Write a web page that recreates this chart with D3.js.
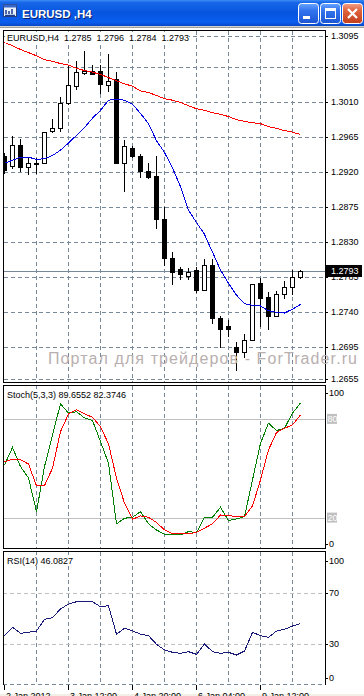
<!DOCTYPE html>
<html><head><meta charset="utf-8">
<script src="https://cdn.jsdelivr.net/npm/d3@7"></script>
<style>
html,body{margin:0;padding:0;background:#fff;overflow:hidden;}
svg{display:block;}
text{font-family:"Liberation Sans",Arial,sans-serif;}
</style></head><body>
<script>
// ---------------- DATA ----------------
const windowTitle = "EURUSD ,H4";
const headerText = "EURUSD,H4  1.2785  1.2796  1.2784  1.2793";
const stochTitle = "Stoch(5,3,3) 89.6552 82.3746";
const rsiTitle = "RSI(14) 46.0827";
const watermark = "Портал для трейдеров - ForTrader.ru";

const openP  = [1.2941,1.2927,1.2954,1.2926,1.2930,1.2932,1.2972,1.2976,1.3008,1.3030,1.3047,1.3049,1.3049,1.3032,1.3039,1.2931,1.2951,1.2940,1.2921,1.2915,1.2860,1.2810,1.2796,1.2787,1.2794,1.2769,1.2800,1.2732,1.2722,1.2695,1.2689,1.2705,1.2777,1.2759,1.2735,1.2763,1.2773,1.2785];
const highP  = [1.2945,1.2968,1.2964,1.2939,1.2939,1.2973,1.2989,1.3018,1.3057,1.3064,1.3076,1.3059,1.3059,1.3072,1.3049,1.2962,1.2954,1.2944,1.2933,1.2942,1.2876,1.2819,1.2799,1.2798,1.2799,1.2810,1.2809,1.2736,1.2731,1.2703,1.2714,1.2777,1.2785,1.2767,1.2769,1.2781,1.2795,1.2796];
const lowP   = [1.2919,1.2925,1.2921,1.2917,1.2919,1.2931,1.2971,1.2972,1.3007,1.3026,1.3045,1.3045,1.3021,1.3024,1.2931,1.2895,1.2939,1.2913,1.2912,1.2848,1.2800,1.2776,1.2783,1.2782,1.2766,1.2768,1.2726,1.2695,1.2710,1.2666,1.2682,1.2704,1.2722,1.2719,1.2735,1.2758,1.2763,1.2784];
const closeP = [1.2922,1.2954,1.2926,1.2931,1.2932,1.2971,1.2976,1.3009,1.3031,1.3048,1.3049,1.3046,1.3033,1.3037,1.2931,1.2953,1.2940,1.2921,1.2913,1.2860,1.2810,1.2792,1.2789,1.2792,1.2768,1.2800,1.2732,1.2718,1.2719,1.2689,1.2704,1.2776,1.2758,1.2735,1.2764,1.2772,1.2785,1.2793];
const maFast = [1.2931,1.2935,1.2939,1.2939,1.2936,1.2937,1.2941,1.2948,1.2957,1.2967,1.2977,1.2989,1.2999,1.3012,1.3013,1.3012,1.3007,1.2995,1.2982,1.2960,1.2945,1.2925,1.2901,1.2871,1.2855,1.2840,1.2817,1.2794,1.2777,1.2762,1.2751,1.2749,1.2748,1.2742,1.2740,1.2739,1.2744,1.2750];
const maSlow = [1.3086,1.3082,1.3077,1.3073,1.3069,1.3064,1.3062,1.3059,1.3057,1.3053,1.3050,1.3048,1.3045,1.3041,1.3037,1.3033,1.3030,1.3024,1.3022,1.3018,1.3014,1.3012,1.3009,1.3005,1.3001,1.2999,1.2996,1.2994,1.2991,1.2987,1.2985,1.2983,1.2982,1.2978,1.2976,1.2973,1.2971,1.2968];
const stochMain   = [52.0,62.6,51.0,44.1,23.6,51.0,70.3,89.1,83.5,84.4,80.6,79.0,66.2,53.1,16.2,19.6,20.2,23.6,16.2,12.5,9.9,9.5,9.5,11.5,10.9,20.2,20.2,26.3,18.2,19.2,20.6,42.9,65.2,77.4,72.9,74.3,83.5,89.66];
const stochSignal = [54.0,55.5,55.1,52.6,39.3,39.5,50.0,72.3,83.0,85.5,83.0,81.0,75.3,64.8,44.0,28.8,19.0,21.0,20.2,17.0,12.5,10.1,10.1,10.1,11.1,13.6,16.2,21.6,21.2,20.6,20.6,27.1,42.9,61.2,71.7,74.3,76.4,82.37];
const rsiValues   = [36.7,43.2,38.5,39.3,40.3,49.4,50.6,57.4,61.2,63.0,63.0,63.0,59.1,59.9,37.8,42.4,40.5,37.8,36.7,30.0,25.6,23.8,23.0,24.3,22.2,30.2,24.3,23.0,23.8,21.7,24.8,39.3,36.7,35.4,40.3,41.6,44.2,46.08];

const priceTicks = [1.3095,1.3055,1.3010,1.2965,1.2920,1.2875,1.2830,1.2785,1.2740,1.2695,1.2655];
const lastPrice = 1.2793;
const stochLevels = [80,20];
const rsiLevels = [70,30];
const dateLabels = ["2 Jan 2012","3 Jan 12:00","4 Jan 20:00","6 Jan 04:00","9 Jan 12:00"];
const dateIdx = [0,8,16,24,32];
const gridIdx = [4,8,12,16,20,24,28,32,36];

// ---------------- LAYOUT ----------------
const W = 364, H = 696;
const L = 3, R = 325;
const P = {main:{top:30,bottom:383}, stoch:{top:385,bottom:549}, rsi:{top:551,bottom:685}};
const GRID = "#778899";
const FS = 9;

const n = openP.length;
const x = d3.scaleLinear().domain([0, n-1]).range([4.5, 4.5 + 8*(n-1)]);
const yP = d3.scaleLinear().domain([1.2655, 1.3095]).range([378.5, 35.5]);
const yS = d3.scaleLinear().domain([0, 100]).range([550.5, 386]);
const yR = d3.scaleLinear().domain([0, 100]).range([683, 554]);
const sy = v => Math.round(v) + 0.5;

const svg = d3.select("body").append("svg").attr("width", W).attr("height", H);
const defs = svg.append("defs");
function grad(id, stops){
  const g = defs.append("linearGradient").attr("id", id).attr("x1",0).attr("y1",0).attr("x2",0).attr("y2",1);
  stops.forEach(([o,c]) => g.append("stop").attr("offset", o).attr("stop-color", c));
}
grad("title", [["0%","#3D8CF6"],["10%","#1766E8"],["50%","#0655DF"],["85%","#0A5EEF"],["100%","#0847C6"]]);
grad("btn", [["0%","#6AA5FF"],["35%","#3274EE"],["100%","#1B55D2"]]);
grad("btnClose", [["0%","#F3A186"],["35%","#E0643E"],["100%","#C23E19"]]);
Object.entries(P).forEach(([k,p]) => {
  defs.append("clipPath").attr("id","clip-"+k).append("rect")
    .attr("x", L+1).attr("y", p.top+1).attr("width", R-L-1).attr("height", p.bottom-p.top-1);
});

svg.append("rect").attr("width", W).attr("height", H).attr("fill", "#fff");

// ---------------- WINDOW CHROME ----------------
svg.append("rect").attr("x",0).attr("y",0).attr("width",W).attr("height",26).attr("fill","url(#title)");
svg.append("rect").attr("x",0).attr("y",26).attr("width",W).attr("height",1).attr("fill","#d6d3cc");
svg.append("rect").attr("x",0).attr("y",27).attr("width",W).attr("height",1).attr("fill","#a0a0a0");
const ic = svg.append("g").attr("transform","translate(3,4)");
ic.append("rect").attr("x",0.5).attr("y",0.5).attr("width",13).attr("height",12).attr("fill","#e8f0ff").attr("stroke","#2a3f7a");
ic.append("rect").attr("x",0.5).attr("y",0.5).attr("width",13).attr("height",3).attr("fill","#3a66c8");
ic.append("path").attr("d","M3 10 L3 6 M6 10 L6 7 M9 10 L9 5 M2 11.5 H12").attr("stroke","#1c3c8c").attr("stroke-width",1.5).attr("fill","none");
svg.append("text").attr("x",23).attr("y",19).attr("fill","#0a1e6e").attr("font-size",11.5).attr("font-weight","bold").text(windowTitle);
svg.append("text").attr("x",22).attr("y",18).attr("fill","#fff").attr("font-size",11.5).attr("font-weight","bold").text(windowTitle);
const btns = [{x:298, f:"url(#btn)", k:"min"},{x:320, f:"url(#btn)", k:"max"},{x:342, f:"url(#btnClose)", k:"close"}];
btns.forEach(b => {
  const g = svg.append("g").attr("transform", `translate(${b.x},3)`);
  g.append("rect").attr("x",0.5).attr("y",0.5).attr("width",20).attr("height",20).attr("rx",3).attr("fill",b.f).attr("stroke","#fff");
  if (b.k === "min") g.append("rect").attr("x",5).attr("y",13).attr("width",7).attr("height",3).attr("fill","#fff");
  if (b.k === "max") {
    g.append("rect").attr("x",5.5).attr("y",5.5).attr("width",10).attr("height",10).attr("fill","none").attr("stroke","#fff");
    g.append("rect").attr("x",5).attr("y",5).attr("width",11).attr("height",3).attr("fill","#fff");
  }
  if (b.k === "close") g.append("path").attr("d","M6 6 L15 15 M15 6 L6 15").attr("stroke","#fff").attr("stroke-width",2.2);
});

// ---------------- GRID ----------------
const gridG = svg.append("g").attr("shape-rendering","crispEdges");
Object.values(P).forEach(p => {
  gridIdx.forEach(i => {
    gridG.append("line").attr("x1", x(i)).attr("x2", x(i)).attr("y1", p.top+1).attr("y2", p.bottom)
      .attr("stroke", GRID).attr("stroke-dasharray","4,3");
  });
});
priceTicks.forEach(t => {
  gridG.append("line").attr("x1", L+1).attr("x2", R).attr("y1", sy(yP(t))).attr("y2", sy(yP(t)))
    .attr("stroke", GRID).attr("stroke-dasharray","4,3");
});
gridG.append("line").attr("x1", L).attr("x2", R).attr("y1", 684.5).attr("y2", 684.5)
  .attr("stroke", GRID).attr("stroke-dasharray","4,3");

// ---------------- MAIN PANEL ----------------
const main = svg.append("g").attr("clip-path","url(#clip-main)");
main.append("line").attr("x1",L).attr("x2",R).attr("y1",sy(yP(lastPrice))).attr("y2",sy(yP(lastPrice)))
  .attr("stroke",GRID).attr("shape-rendering","crispEdges");

const candles = d3.range(n).map(i => ({i, o:openP[i], h:highP[i], l:lowP[i], c:closeP[i]}));
const cg = main.append("g").attr("shape-rendering","crispEdges");
cg.selectAll("line.w").data(candles).join("line").attr("class","w")
  .attr("x1", d => x(d.i)).attr("x2", d => x(d.i))
  .attr("y1", d => sy(yP(d.h))).attr("y2", d => sy(yP(d.l))).attr("stroke","#000");
cg.selectAll("rect.b").data(candles).join("rect").attr("class","b")
  .attr("x", d => x(d.i) - 2).attr("width", 4)
  .attr("y", d => sy(yP(Math.max(d.o,d.c))))
  .attr("height", d => Math.max(0, sy(yP(Math.min(d.o,d.c))) - sy(yP(Math.max(d.o,d.c)))))
  .attr("fill", d => d.c >= d.o ? "#fff" : "#000").attr("stroke","#000");

const lineP = d3.line().x((d,i) => x(i)).y(d => yP(d));
main.append("path").datum(maSlow).attr("d", lineP).attr("fill","none").attr("stroke","#ff0000").attr("shape-rendering","crispEdges");
main.append("path").datum(maFast).attr("d", lineP).attr("fill","none").attr("stroke","#0000e0").attr("shape-rendering","crispEdges");

// ---------------- STOCH PANEL ----------------
const st = svg.append("g").attr("clip-path","url(#clip-stoch)");
stochLevels.forEach(v => st.append("line").attr("x1",L).attr("x2",R).attr("y1",sy(yS(v))).attr("y2",sy(yS(v)))
  .attr("stroke","#c0c0c0").attr("shape-rendering","crispEdges"));
const lineS = d3.line().x((d,i) => x(i)).y(d => yS(d));
st.append("path").datum(stochMain).attr("d", lineS).attr("fill","none").attr("stroke","#008000").attr("shape-rendering","crispEdges");
st.append("path").datum(stochSignal).attr("d", lineS).attr("fill","none").attr("stroke","#ff0000").attr("shape-rendering","crispEdges");

// ---------------- RSI PANEL ----------------
const rs = svg.append("g").attr("clip-path","url(#clip-rsi)");
rsiLevels.forEach(v => rs.append("line").attr("x1",L).attr("x2",R).attr("y1",sy(yR(v))).attr("y2",sy(yR(v)))
  .attr("stroke","#c0c0c0").attr("stroke-dasharray","4,3").attr("shape-rendering","crispEdges"));
const lineR = d3.line().x((d,i) => x(i)).y(d => yR(d));
rs.append("path").datum(rsiValues).attr("d", lineR).attr("fill","none").attr("stroke","#1a1a78").attr("shape-rendering","crispEdges");

// ---------------- HEADERS ----------------
function header(txt, bx, by, bw, baseline){
  svg.append("rect").attr("x",bx).attr("y",by).attr("width",bw).attr("height",11).attr("fill","#fff");
  svg.append("text").attr("x",7).attr("y",baseline).attr("font-size",FS).attr("fill","#000").attr("xml:space","preserve").text(txt);
}
header(headerText, 5, 32, 184, 41);
header(stochTitle, 5, 389, 124, 398);
header(rsiTitle, 5, 555, 72, 564);

// ---------------- BORDERS ----------------
const bd = svg.append("g").attr("shape-rendering","crispEdges").attr("fill","none").attr("stroke","#000");
bd.append("rect").attr("x",L+0.5).attr("y",P.main.top+0.5).attr("width",R-L).attr("height",P.main.bottom-P.main.top-1);
bd.append("rect").attr("x",L+0.5).attr("y",P.stoch.top+0.5).attr("width",R-L).attr("height",P.stoch.bottom-P.stoch.top-1);
bd.append("path").attr("d",`M${L+0.5} ${P.rsi.bottom} V${P.rsi.top+0.5} H${R+0.5} V${P.rsi.bottom}`);

// ---------------- WATERMARK (on top, spills past the panel edge) ----------------
svg.append("text").attr("x",48).attr("y",363.5).attr("font-size",16).attr("fill","#b9afaf")
  .attr("textLength",309).attr("lengthAdjust","spacing").text(watermark);

// ---------------- RIGHT AXES ----------------
const ax = svg.append("g").attr("font-size",FS).attr("fill","#000");
function rtick(y){ svg.append("line").attr("x1",R).attr("x2",R+3).attr("y1",sy(y)).attr("y2",sy(y)).attr("stroke","#000").attr("shape-rendering","crispEdges"); }
priceTicks.forEach(t => { rtick(yP(t)); ax.append("text").attr("x",331).attr("y",yP(t)).attr("dy","0.35em").text(t.toFixed(4)); });
svg.append("rect").attr("x",326).attr("y",sy(yP(lastPrice))-6.5).attr("width",36).attr("height",12).attr("fill","#000");
svg.append("text").attr("x",331).attr("y",yP(lastPrice)).attr("dy","0.35em").attr("font-size",FS).attr("fill","#fff").text(lastPrice.toFixed(4));

[[100, yS(100)+7],[0, yS(0)-6.5]].forEach(([v,y]) => { rtick(y); ax.append("text").attr("x",329).attr("y",y).attr("dy","0.35em").text(v); });
stochLevels.forEach(v => {
  svg.append("rect").attr("x",327).attr("y",yS(v)-5).attr("width",10).attr("height",10).attr("fill","#c0c0c0");
  svg.append("text").attr("x",327.5).attr("y",yS(v)).attr("dy","0.35em").attr("font-size",FS).attr("fill","#fff").text(v);
});
[[100, yR(100)+7],[70, yR(70)],[30, yR(30)],[0, yR(0)-5]].forEach(([v,y]) => { rtick(y); ax.append("text").attr("x",329).attr("y",y).attr("dy","0.35em").text(v); });

// ---------------- DATE AXIS ----------------
svg.append("rect").attr("x",0).attr("y",694).attr("width",W).attr("height",2).attr("fill","#f1efe6");
dateIdx.forEach((i,k) => {
  svg.append("line").attr("x1",Math.floor(x(i))+0.5).attr("x2",Math.floor(x(i))+0.5).attr("y1",685).attr("y2",690)
    .attr("stroke","#000").attr("shape-rendering","crispEdges");
  svg.append("text").attr("x",Math.floor(x(i))+2).attr("y",698.5).attr("font-size",FS).attr("fill","#000").text(dateLabels[k]);
});
</script>
</body></html>
